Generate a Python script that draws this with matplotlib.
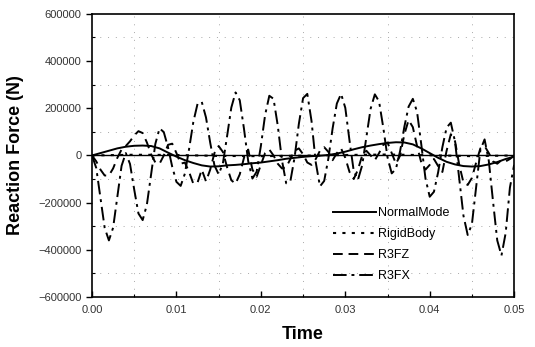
"""Reaction force time history: NormalMode / RigidBody / R3FZ / R3FX."""

import matplotlib
matplotlib.use("Agg")
import matplotlib.pyplot as plt
import numpy as np
from matplotlib.ticker import MultipleLocator, FormatStrFormatter

plt.rcParams["font.family"] = ["Liberation Sans", "DejaVu Sans"]

# time grids (s)
t_fine = np.linspace(0.0, 0.05, 101)    # 0.5 ms steps
t_mode = np.linspace(0.0, 0.05, 51)     # 1 ms steps
t_rigid = np.linspace(0.0, 0.05, 11)    # 5 ms steps

# values, in kN
normal_mode = [0, 10, 20, 30, 37, 41, 42, 40, 30, 12,
               -5, -20, -32, -42, -47, -46, -42, -40, -37, -33,
               -30, -25, -20, -14, -10, -6, -3, -1, 2, 8,
               16, 26, 35, 42, 48, 53, 56, 55, 47, 30,
               10, -10, -27, -38, -45, -47, -45, -38, -28, -15,
               -5]

rigid_body = [0, 3, 2, -2, -3, -1, 2, 4, 1, -3, 0]

r3fz = [0, -25, -60, -85, -85, -55, -10, 25, 40, 60,
        85, 103, 95, 55, 5, -30, -35, 0, 45, 50,
        10, -35, -30, -70, -120, -115, -60, -110, -60, 10,
        40, 15, -50, -105, -120, -80, -10, 25, -60, -90,
        -40, 10, 25, 0, -35, -55, -50, -15, 20, 30,
        5, -30, -40, -15, 20, 35, 15, -20, 10, 30,
        -10, -70, -100, -60, 0, 20, 0, -20, 10, 45,
        55, 10, -35, 0, 90, 150, 120, 40, -30, -60,
        -40, -15, -45, -70, 20, 90, 60, -40, -115, -125,
        -95, -30, 30, 40, 10, -25, -35, -20, -25, -15,
        0]

r3fx = [0, -53, -180, -307, -360, -306, -175, -44, 10, -36,
        -145, -246, -274, -208, -80, 49, 115, 99, 35, -48,
        -112, -129, -77, 28, 142, 219, 227, 161, 54, -42,
        -80, -34, 82, 203, 267, 234, 113, -24, -98, -69,
        40, 171, 253, 240, 127, -21, -118, -108, -7, 134,
        243, 261, 146, -29, -131, -108, -12, 115, 220, 261,
        202, 63, -66, -103, -42, 78, 198, 259, 229, 118,
        -8, -76, -57, 20, 122, 207, 240, 185, 47, -98,
        -175, -154, -71, 35, 118, 139, 58, -99, -256, -337,
        -291, -134, 23, 68, -23, -195, -360, -424, -328, -136,
        -40]

fig = plt.figure(figsize=(5.35, 3.47), dpi=100)
ax = fig.add_axes([0.172, 0.144, 0.789, 0.816])

ax.axhline(0, color="black", lw=1.0, zorder=1)
ax.plot(t_mode, np.array(normal_mode) * 1000, color="black", lw=1.4,
        ls="-", label="NormalMode")
ax.plot(t_rigid, np.array(rigid_body) * 1000, color="black", lw=1.5,
        ls=(0, (1.5, 3)), label="RigidBody")
ax.plot(t_fine, np.array(r3fz) * 1000, color="black", lw=1.4,
        ls=(0, (5, 3)), label="R3FZ")
ax.plot(t_fine, np.array(r3fx) * 1000, color="black", lw=1.4,
        ls=(0, (7, 2.5, 1.5, 2.5)), label="R3FX")

ax.set_xlim(0, 0.05)
ax.set_ylim(-600000, 600000)
ax.xaxis.set_major_locator(MultipleLocator(0.01))
ax.xaxis.set_minor_locator(MultipleLocator(0.005))
ax.yaxis.set_major_locator(MultipleLocator(200000))
ax.yaxis.set_minor_locator(MultipleLocator(100000))
ax.xaxis.set_major_formatter(FormatStrFormatter("%.2f"))

ax.tick_params(axis="both", which="major", labelsize=8, labelcolor="#333333",
               width=1.0, length=4)
ax.tick_params(axis="y", which="major", direction="out")
ax.tick_params(axis="x", which="major", direction="in", pad=6)
ax.tick_params(axis="both", which="minor", direction="in", length=2, width=0.8)

# faint, sparse dotted grid on the minor positions only
ax.grid(which="minor", ls=(0, (1, 7)), color="#a8a8a8", lw=0.7)

for side in ax.spines.values():
    side.set_linewidth(1.2)

ax.set_xlabel("Time", fontsize=13, fontweight="bold", labelpad=8)
ax.set_ylabel("Reaction Force (N)", fontsize=13, fontweight="bold", labelpad=10)

ax.legend(loc="upper left", bbox_to_anchor=(0.572, 0.318), frameon=False,
          fontsize=9, handlelength=3.4, handletextpad=0.2, labelspacing=0.72,
          borderpad=0, borderaxespad=0)

fig.savefig("out.png", dpi=100)
